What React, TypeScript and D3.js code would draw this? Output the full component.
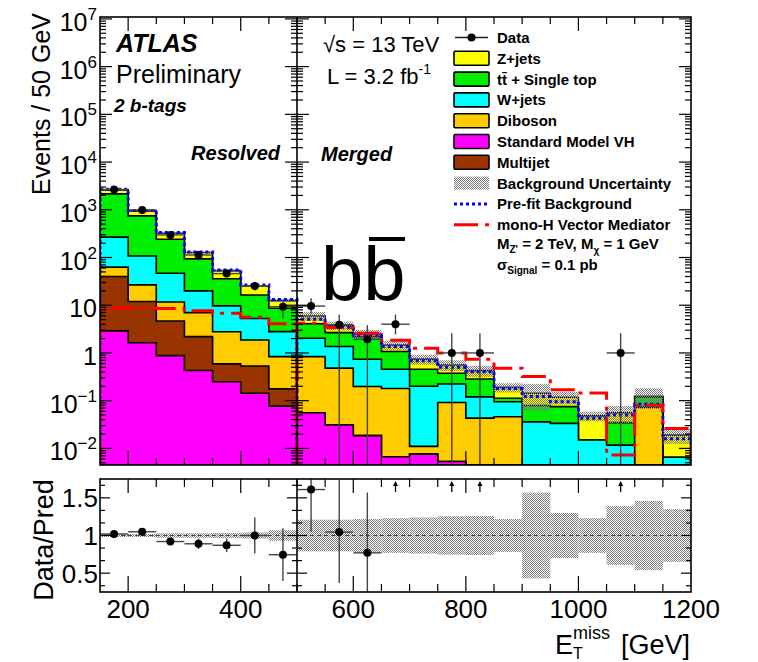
import React from 'react';
import * as d3 from 'd3';

// bin low edges (GeV), 50 GeV wide
const resolvedBins = [150, 200, 250, 300, 350, 400, 450];
const mergedBins = [500, 550, 600, 650, 700, 750, 800, 850, 900, 950, 1000, 1050, 1100, 1150];
const binWidth = 50;

// background components, resolved region
const vhRes = [2.9, 1.64, 0.88, 0.43, 0.25, 0.143, 0.077];
const multijetRes = [37, 10.3, 3.8, 1.77, 0.34, 0.39, 0.1];
const dibosonRes = [23, 14.8, 7.0, 4.8, 2.2, 1.34, 0.66];
const wjetsRes = [204, 81, 35, 13, 6.9, 3.4, 1.96];
const ttbarRes = [1890, 637, 195, 73.5, 26.3, 11.1, 5.85];
const zjetsRes = [460, 203, 81, 33.5, 17, 9, 3.85];

// background components, merged region
const vhMer = [0.056, 0.031, 0.0185, 0.0067, 0.0076, 0.0053, 0, 0, 0, 0, 0, 0, 0, 0];
const multijetMer = [0, 0, 0, 0, 0, 0, 0, 0, 0, 0, 0, 0, 0, 0];
const dibosonMer = [0.78, 0.45, 0.18, 0.173, 0.0034, 0.086, 0.043, 0.046, 0, 0, 0, 0, 0.073, 0];
const wjetsMer = [1.19, 0.88, 0.54, 0.275, 0.19, 0.133, 0.077, 0.049, 0.036, 0.0335, 0.015, 0.0117, 0, 0.0065];
const ttbarMer = [2.07, 1.31, 1.46, 0.615, 0.255, 0.151, 0.165, 0.017, 0.043, 0.0415, 0, 0.023, 0.047, 0];
const zjetsMer = [1.87, 1.08, 0.3, 0.4, 0.285, 0.185, 0.141, 0.078, 0.064, 0.043, 0.033, 0.021, 0.004, 0.0125];

// relative background uncertainty
const uncRes = [0.02, 0.02, 0.03, 0.03, 0.035, 0.04, 0.07];
const uncMer = [0.21, 0.21, 0.22, 0.23, 0.24, 0.255, 0.26, 0.22, 0.57, 0.3, 0.23, 0.39, 0.46, 0.35];

// pre-fit background and signal
const prefitRes = [2700, 970, 333, 131, 55, 26.5, 13.2];
const prefitMer = [5.1, 3.45, 2.38, 1.36, 0.69, 0.5, 0.405, 0.18, 0.122, 0.095, 0.043, 0.05, 0.084, 0.016];
const signalRes = [8.7, 8.9, 8.5, 7.7, 6.8, 5.6, 4.1];
const signalMer = [4.2, 3.4, 2.6, 1.85, 1.25, 1.0, 0.74, 0.48, 0.32, 0.17, 0.145, 0.0073, 0.08, 0.026];

// data with error bars
const dataRes = [2665, 995, 297, 113, 46, 25.4, 9.3];
const dataResUp = [52, 32, 17, 11, 7, 5, 3.2];
const dataResDn = [52, 32, 17, 11, 7, 5, 4];
const dataMer = [9.6, 3.9, 1.93, 4, 0, 1, 1, 0, 0, 0, 0, 1, 0, 0];
const dataMerUp = [4.4, 2.4, 1.9, 2.4, 0, 1.6, 1.6, 0, 0, 0, 0, 1.6, 0, 0];
const dataMerDn = [3.1, 3.9, 1.93, 1.55, 0, 1, 1, 0, 0, 0, 0, 1, 0, 0];

// data / prediction
const ratioRes = [1.02, 1.05, 0.92, 0.89, 0.87, 1.0, 0.745];
const ratioResErr = [0.02, 0.03, 0.05, 0.07, 0.09, 0.24, 0.35];
const ratioMer = [1.61, 1.045, 0.77, 2.7, null, 1.8, 2.35, null, null, null, null, 17.9, null, null];
const ratioMerUp = [0.6, 0.7, 0.8, 0, 0, 0, 0, 0, 0, 0, 0, 0, 0, 0];
const ratioMerDn = [0.56, 0.675, 0.77, 0, 0, 0, 0, 0, 0, 0, 0, 0, 0, 0];

const xTickLabels = [200, 400, 600, 800, 1000, 1200];
const yDecades = [-2, -1, 0, 1, 2, 3, 4, 5, 6, 7];
const ratioTickLabels = ['0.5', '1', '1.5'];

const FONT = '"Liberation Sans", Arial, Helvetica, sans-serif';
const keys = ['vh', 'multijet', 'diboson', 'wjets', 'ttbar', 'zjets'];
const colors: Record<string, string> = {
  zjets: '#ffff00',
  ttbar: '#00ee00',
  wjets: '#00ffff',
  diboson: '#ffcc00',
  vh: '#ff00ff',
  multijet: '#993300',
};

const legendItems = [
  { label: 'Data', kind: 'data' },
  { label: 'Z+jets', kind: 'box', color: colors.zjets },
  { label: 'tt\u0304 + Single top', kind: 'box', color: colors.ttbar },
  { label: 'W+jets', kind: 'box', color: colors.wjets },
  { label: 'Diboson', kind: 'box', color: colors.diboson },
  { label: 'Standard Model VH', kind: 'box', color: colors.vh },
  { label: 'Multijet', kind: 'box', color: colors.multijet },
  { label: 'Background Uncertainty', kind: 'band' },
  { label: 'Pre-fit Background', kind: 'prefit' },
  { label: 'mono-H Vector Mediator', kind: 'signal' },
];

const x = d3.scaleLinear().domain([150, 1200]).range([100, 691]);
const yMain = d3.scaleLog().domain([Math.pow(10, -2.348), Math.pow(10, 7.04)]).range([465, 17]);
const yRatio = d3.scaleLinear().domain([0.25, 1.75]).range([592, 479]);

const regions = [
  {
    lows: resolvedBins,
    comps: { vh: vhRes, multijet: multijetRes, diboson: dibosonRes, wjets: wjetsRes, ttbar: ttbarRes, zjets: zjetsRes },
    unc: uncRes, prefit: prefitRes, signal: signalRes,
  },
  {
    lows: mergedBins,
    comps: { vh: vhMer, multijet: multijetMer, diboson: dibosonMer, wjets: wjetsMer, ttbar: ttbarMer, zjets: zjetsMer },
    unc: uncMer, prefit: prefitMer, signal: signalMer,
  },
];

const yClamp = (v: number) => {
  const [lo, hi] = yMain.domain();
  if (!(v > lo)) return yMain.range()[0];
  if (v > hi) return yMain.range()[1];
  return yMain(v);
};

function stepPath(lows: number[], vals: number[], closed: boolean) {
  const y0 = yMain.range()[0];
  let d = `M${x(lows[0])},${y0}`;
  lows.forEach((lo, i) => {
    const yy = yClamp(vals[i]);
    d += `L${x(lo)},${yy}L${x(lo + binWidth)},${yy}`;
  });
  d += `L${x(lows[lows.length - 1] + binWidth)},${y0}`;
  return closed ? d + 'Z' : d;
}

export default function App() {
  const els: React.ReactNode[] = [];
  let k = 0;

  // stacked backgrounds
  regions.forEach((r) => {
    const rows = r.lows.map((lo, i) => {
      const o: any = {};
      keys.forEach((key) => (o[key] = (r.comps as any)[key][i]));
      return o;
    });
    const stacked = d3.stack().keys(keys)(rows);
    [...stacked].reverse().forEach((layer) => {
      els.push(
        <path key={k++} d={stepPath(r.lows, layer.map((p) => p[1]), true)}
          fill={colors[layer.key]} stroke="#000" strokeWidth={1.6} />
      );
    });
    const totals = rows.map((o: any) => keys.reduce((s, key) => s + o[key], 0));
    // uncertainty band
    r.lows.forEach((lo, i) => {
      const t = totals[i];
      const yTop = yClamp(t * (1 + r.unc[i]));
      const yBot = yClamp(t * (1 - r.unc[i]));
      els.push(
        <rect key={k++} x={x(lo)} y={yTop} width={x(lo + binWidth) - x(lo)} height={Math.max(0, yBot - yTop)} fill="url(#dots)" />
      );
    });
    // pre-fit
    els.push(
      <path key={k++} d={stepPath(r.lows, r.prefit, false)} fill="none" stroke="#0000ff" strokeWidth={3} strokeDasharray="3,3" />
    );
    // signal
    els.push(
      <path key={k++} d={stepPath(r.lows, r.signal, false)} fill="none" stroke="#ff0000" strokeWidth={3} strokeDasharray="24,7,4,7" />
    );
  });

  // data points main
  const dataSets = [
    { lows: resolvedBins, v: dataRes, up: dataResUp, dn: dataResDn },
    { lows: mergedBins, v: dataMer, up: dataMerUp, dn: dataMerDn },
  ];
  const dataEls: React.ReactNode[] = [];
  dataSets.forEach((s) => {
    s.lows.forEach((lo, i) => {
      const v = s.v[i];
      if (!(v > 0)) return;
      const cx = x(lo + binWidth / 2);
      const cy = yMain(v);
      dataEls.push(
        <g key={k++}>
          <line x1={cx} x2={cx} y1={yClamp(v + s.up[i])} y2={yClamp(v - s.dn[i])} stroke="#444" strokeWidth={1.4} />
          <line x1={x(lo)} x2={x(lo + binWidth)} y1={cy} y2={cy} stroke="#444" strokeWidth={1.4} />
          <circle cx={cx} cy={cy} r={4} fill="#000" />
        </g>
      );
    });
  });

  // ratio panel
  const ratioEls: React.ReactNode[] = [];
  regions.forEach((r) => {
    r.lows.forEach((lo, i) => {
      const u = r.unc[i];
      ratioEls.push(
        <rect key={k++} x={x(lo)} y={yRatio(1 + u)} width={x(lo + binWidth) - x(lo)}
          height={yRatio(1 - u) - yRatio(1 + u)} fill="url(#dots)" />
      );
    });
  });
  ratioEls.push(<line key={k++} x1={x(150)} x2={x(1200)} y1={yRatio(1)} y2={yRatio(1)} stroke="#444" strokeWidth={1.2} strokeDasharray="4,3" />);
  const ratioSets = [
    { lows: resolvedBins, v: ratioRes, up: ratioResErr, dn: ratioResErr },
    { lows: mergedBins, v: ratioMer, up: ratioMerUp, dn: ratioMerDn },
  ];
  const arrowEls: React.ReactNode[] = [];
  ratioSets.forEach((s) => {
    s.lows.forEach((lo, i) => {
      const v = s.v[i] as number | null;
      if (v == null) return;
      const cx = x(lo + binWidth / 2);
      if (v > yRatio.domain()[1]) {
        arrowEls.push(
          <g key={k++}>
            <line x1={cx} x2={cx} y1={492} y2={485} stroke="#000" strokeWidth={1.3} />
            <path d={`M${cx - 2.5},${486}L${cx},${481}L${cx + 2.5},${486}Z`} fill="#000" />
          </g>
        );
        return;
      }
      const cy = yRatio(v);
      ratioEls.push(
        <g key={k++}>
          <line x1={cx} x2={cx} y1={yRatio(v + s.up[i])} y2={yRatio(v - s.dn[i])} stroke="#444" strokeWidth={1.4} />
          <line x1={x(lo)} x2={x(lo + binWidth)} y1={cy} y2={cy} stroke="#444" strokeWidth={1.4} />
          <circle cx={cx} cy={cy} r={4} fill="#000" />
        </g>
      );
    });
  });

  // ticks
  const ticks: React.ReactNode[] = [];
  const tk = (x1: number, y1: number, x2: number, y2: number) =>
    ticks.push(<line key={k++} x1={x1} y1={y1} x2={x2} y2={y2} stroke="#000" strokeWidth={1.2} />);
  const xMid = x(500);
  for (let v = 200; v < 1200; v += 50) {
    const xx = x(v);
    const big = v % 200 === 0;
    tk(xx, 465, xx, 465 - (big ? 14 : 7));
    tk(xx, 17, xx, 17 + (big ? 14 : 7));
    tk(xx, 592, xx, 592 - (big ? 16 : 8));
    tk(xx, 479, xx, 479 + (big ? 14 : 8));
  }
  yDecades.concat([-3]).forEach((e) => {
    for (let m = 1; m <= 9; m++) {
      const v = m * Math.pow(10, e);
      const [lo, hi] = yMain.domain();
      if (v < lo || v > hi) continue;
      const yy = yMain(v);
      const len = m === 1 ? 12 : 6;
      tk(100, yy, 100 + len, yy);
      tk(691, yy, 691 - len, yy);
      tk(xMid - len, yy, xMid + len, yy);
    }
  });
  [1 / 3, 0.5, 2 / 3, 5 / 6, 1, 7 / 6, 4 / 3, 1.5, 5 / 3].forEach((v) => {
    const yy = yRatio(v);
    const big = Math.abs(v * 2 - Math.round(v * 2)) < 1e-6;
    const len = big ? 10 : 5;
    tk(100, yy, 100 + len, yy);
    tk(691, yy, 691 - len, yy);
    tk(xMid - len, yy, xMid + len, yy);
  });

  const legendX = 454;
  const rowY = (i: number) => 37.5 + i * 20.8;

  return (
    <svg width={758} height={662} style={{ position: 'absolute', left: 0, top: 0, background: '#fff' }} fontFamily={FONT}>
      <defs>
        <pattern id="dots" width="2" height="2" patternUnits="userSpaceOnUse">
          <rect x="0" y="0" width="1" height="1" fill="#7a7a7a" />
          <rect x="1" y="1" width="1" height="1" fill="#7a7a7a" />
        </pattern>
        <clipPath id="mainClip"><rect x={100} y={17} width={591} height={448} /></clipPath>
        <clipPath id="ratioClip"><rect x={100} y={479} width={591} height={113} /></clipPath>
      </defs>

      <g clipPath="url(#mainClip)">
        {els}
        {dataEls}
      </g>
      <g clipPath="url(#ratioClip)">{ratioEls}</g>
      {arrowEls}
      {ticks}

      {/* frames */}
      <rect x={100} y={17} width={591} height={448} fill="none" stroke="#000" strokeWidth={1.6} />
      <rect x={100} y={479} width={591} height={113} fill="none" stroke="#000" strokeWidth={1.6} />
      <line x1={xMid} x2={xMid} y1={17} y2={465} stroke="#000" strokeWidth={1.6} />
      <line x1={xMid} x2={xMid} y1={479} y2={592} stroke="#000" strokeWidth={1.6} />

      {/* main y tick labels */}
      {yDecades.map((e) => (
        <text key={'yl' + e} x={97} y={yMain(Math.pow(10, e)) + 12} fontSize={25} textAnchor="end">
          {e === 0 ? '1' : '10'}
          {e !== 0 && e !== 1 ? (
            <tspan fontSize={17} dy={-11}>{e < 0 ? '\u2212' + Math.abs(e) : String(e)}</tspan>
          ) : null}
        </text>
      ))}
      <text transform="translate(50,13) rotate(-90)" fontSize={25} textAnchor="end">Events / 50 GeV</text>

      {/* ratio labels */}
      {ratioTickLabels.map((t) => (
        <text key={'rl' + t} x={98} y={yRatio(+t) + 9.5} fontSize={26} textAnchor="end">{t}</text>
      ))}
      <text transform="translate(53,540) rotate(-90)" fontSize={27} textAnchor="middle">Data/Pred</text>

      {/* x labels */}
      {xTickLabels.map((t) => (
        <text key={'xl' + t} x={x(t)} y={618} fontSize={26} textAnchor="middle">{t}</text>
      ))}
      <text x={555} y={654} fontSize={27}>E</text>
      <text x={573} y={639} fontSize={18}>miss</text>
      <text x={573} y={659} fontSize={16}>T</text>
      <text x={690} y={654} fontSize={27} textAnchor="end">[GeV]</text>

      {/* annotations */}
      <text x={116} y={52} fontSize={25} fontWeight="bold" fontStyle="italic">ATLAS</text>
      <text x={116} y={83} fontSize={25}>Preliminary</text>
      <text x={114} y={112} fontSize={19} fontWeight="bold" fontStyle="italic">2 b-tags</text>
      <text x={280} y={160} fontSize={20} fontWeight="bold" fontStyle="italic" textAnchor="end">Resolved</text>
      <text x={321} y={161} fontSize={20} fontWeight="bold" fontStyle="italic">Merged</text>
      <text x={323} y={52} fontSize={22}>√s = 13 TeV</text>
      <text x={327} y={84} fontSize={22}>
        L = 3.2 fb<tspan fontSize={14} dy={-10}>-1</tspan>
      </text>
      <text x={321} y={300} fontSize={76}>bb</text>
      <line x1={369} x2={405} y1={239} y2={239} stroke="#000" strokeWidth={4} />

      {/* legend */}
      {legendItems.map((it, i) => {
        const cy = rowY(i);
        let sym: React.ReactNode = null;
        if (it.kind === 'data') {
          sym = (
            <g>
              <line x1={legendX + 1} x2={legendX + 34} y1={cy} y2={cy} stroke="#222" strokeWidth={1.3} />
              <circle cx={legendX + 17.5} cy={cy} r={4} fill="#000" />
            </g>
          );
        } else if (it.kind === 'box') {
          sym = <rect x={legendX} y={cy - 7} width={35} height={14} fill={it.color} stroke="#000" strokeWidth={1.6} rx={1} />;
        } else if (it.kind === 'band') {
          sym = <rect x={legendX} y={cy - 6.5} width={35} height={13} fill="url(#dots)" />;
        } else if (it.kind === 'prefit') {
          sym = <line x1={legendX} x2={legendX + 35} y1={cy} y2={cy} stroke="#0000ff" strokeWidth={3} strokeDasharray="3,3" />;
        } else {
          sym = <line x1={legendX} x2={legendX + 35} y1={cy} y2={cy} stroke="#ff0000" strokeWidth={3} strokeDasharray="24,7,4,7" />;
        }
        return (
          <g key={'lg' + i}>
            {sym}
            <text x={497} y={cy + 5.5} fontSize={15} fontWeight="bold">{it.label}</text>
          </g>
        );
      })}
      <text x={497} y={249} fontSize={15} fontWeight="bold">
        M<tspan fontSize={10} dy={4}>Z'</tspan>
        <tspan dy={-4}> = 2 TeV, M</tspan>
        <tspan fontSize={10} dy={5}>χ</tspan>
        <tspan dy={-5}> = 1 GeV</tspan>
      </text>
      <text x={497} y={270} fontSize={15} fontWeight="bold">
        σ<tspan fontSize={10} dy={4}>Signal</tspan>
        <tspan dy={-4}> = 0.1 pb</tspan>
      </text>
    </svg>
  );
}
